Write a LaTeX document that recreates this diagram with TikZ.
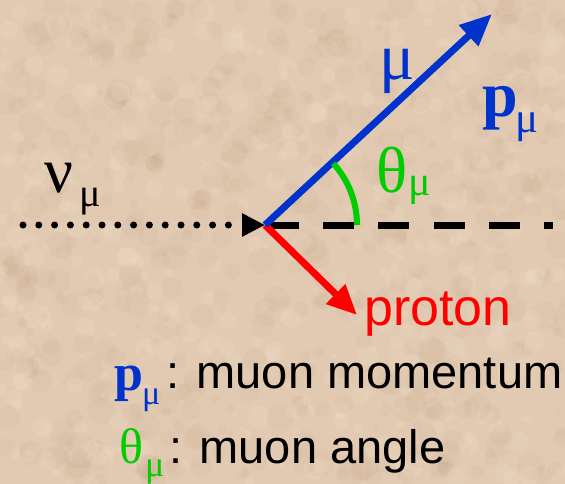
\documentclass[tikz,border=0pt]{standalone}
\usepackage{fontspec}
\setmainfont{Liberation Serif}
\newfontfamily\sansf{Liberation Sans}
\usetikzlibrary{arrows.meta}
\definecolor{bgbase}{RGB}{226,202,178}
\definecolor{bgdark}{RGB}{178,146,118}
\definecolor{bglight}{RGB}{246,228,208}
\definecolor{mublue}{RGB}{0,51,204}
\definecolor{thgreen}{RGB}{0,204,0}
\definecolor{prred}{RGB}{255,0,0}
\newcommand{\fsz}[1]{\fontsize{#1}{#1}\selectfont}
\begin{document}
\begin{tikzpicture}[x=1pt,y=-1pt,
  lbl/.style={anchor=base west, inner sep=0pt},
  spot/.style={opacity=0.08}]
\fill[bgbase] (0,0) rectangle (565,484);
\useasboundingbox (0,0) rectangle (565,484);
\pgfmathsetseed{12}
\foreach \i in {1,...,520}{
  \pgfmathsetmacro{\xa}{rnd*565}
  \pgfmathsetmacro{\ya}{rnd*484}
  \pgfmathsetmacro{\ra}{3+rnd*11}
  \fill[bgdark, spot] (\xa,\ya) circle[radius=\ra];
}
\foreach \i in {1,...,420}{
  \pgfmathsetmacro{\xa}{rnd*565}
  \pgfmathsetmacro{\ya}{rnd*484}
  \pgfmathsetmacro{\ra}{2+rnd*9}
  \fill[bglight, opacity=0.16] (\xa,\ya) circle[radius=\ra];
}
% coordinates
\coordinate (nustart) at (23,225);
\coordinate (vtx) at (265,225);
\coordinate (mutip) at (492,14);
\coordinate (prtip) at (357,315);
\coordinate (dstart) at (268,225);
\coordinate (dend) at (553,225);
% lines
\draw[line width=7pt, dash pattern=on 31pt off 24.2pt] (dstart) -- (dend);
\draw[line width=7pt, line cap=round, dash pattern=on 0pt off 15.8pt,
  -{Triangle[length=23pt,width=22pt]}] (nustart) -- (vtx);
\draw[prred, line width=7pt, -{Triangle[length=30pt,width=26pt]}] (vtx) -- (prtip);
\draw[mublue, line width=7pt, -{Triangle[length=32pt,width=27pt]}] (vtx) -- (mutip);
\draw[thgreen, line width=6pt] (vtx) ++(0:92pt) arc[start angle=0, end angle=42, radius=92pt];
% labels
\node[lbl, font=\fsz{64}] (nu) at (44,193) {ν};
\node[lbl, font=\fsz{40}] (nusub) at (79,206) {μ};
\node[lbl, mublue, font=\fsz{66}] (mu) at (379,80) {μ};
\node[lbl, mublue, font=\fsz{64}\bfseries] (p) at (482,117) {p};
\node[lbl, mublue, font=\fsz{43}] (psub) at (515,133) {μ};
\node[lbl, thgreen, font=\fsz{65}] (th) at (376,193) {θ};
\node[lbl, thgreen, font=\fsz{42}] (thsub) at (408,196) {μ};
\node[lbl, prred, font=\sansf\fsz{52}] (proton) at (364,325) {proton};
% legend
\node[lbl, mublue, font=\fsz{52}\bfseries] (lp) at (114,390) {p};
\node[lbl, mublue, font=\fsz{34}] (lpsub) at (142,404) {μ};
\node[lbl, font=\sansf\fsz{47}] (lptext) at (166,388) {: muon momentum};
\node[lbl, thgreen, font=\fsz{50}] (lth) at (119,463) {θ};
\node[lbl, thgreen, font=\fsz{36}] (lthsub) at (145,476) {μ};
\node[lbl, font=\sansf\fsz{47}] (lthtext) at (169,463) {: muon angle};
\end{tikzpicture}
\end{document}
